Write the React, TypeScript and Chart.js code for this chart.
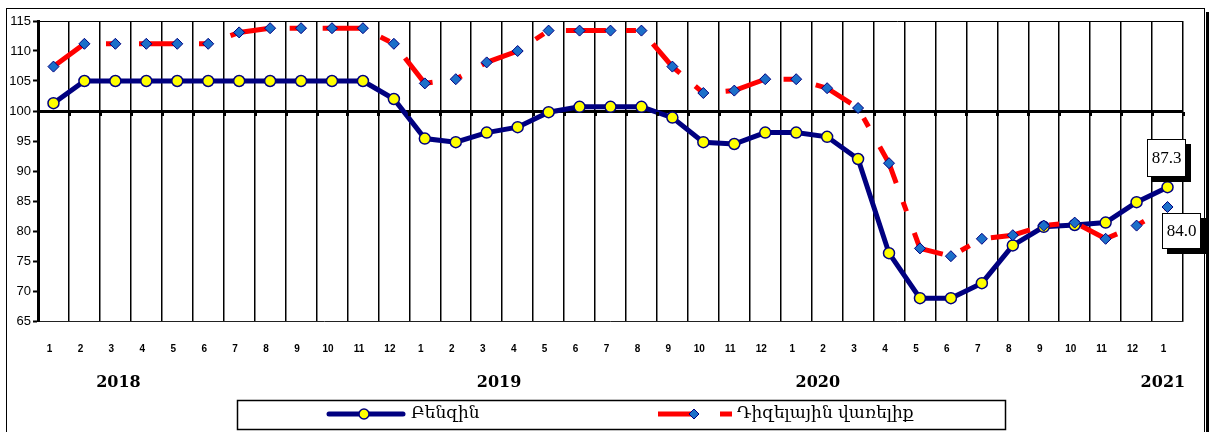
import React, { useEffect, useRef } from 'react';
import { Chart, registerables } from 'chart.js';

Chart.register(...registerables);

const categories = [
  '1', '2', '3', '4', '5', '6', '7', '8', '9', '10', '11', '12',
  '1', '2', '3', '4', '5', '6', '7', '8', '9', '10', '11', '12',
  '1', '2', '3', '4', '5', '6', '7', '8', '9', '10', '11', '12',
  '1',
];

const benzin = [
  101.3, 105, 105, 105, 105, 105, 105, 105, 105, 105, 105, 102,
  95.4, 94.8, 96.4, 97.3, 99.8, 100.7, 100.7, 100.7, 98.9, 94.8, 94.5, 96.4,
  96.4, 95.7, 92.0, 76.3, 68.8, 68.8, 71.3, 77.6, 80.7, 81.0, 81.4, 84.8,
  87.3,
];

const diesel = [
  107.4, 111.2, 111.2, 111.2, 111.2, 111.2, 113.1, 113.8, 113.8, 113.8, 113.8, 111.2,
  104.6, 105.3, 108.1, 110.0, 113.4, 113.4, 113.4, 113.4, 107.4, 103.0, 103.4, 105.3,
  105.3, 103.8, 100.5, 91.3, 77.1, 75.8, 78.7, 79.3, 80.9, 81.4, 78.7, 80.9,
  84.0,
];

const seriesNames = ['Բենզին', 'Դիզելային վառելիք'];
const yearLabels = ['2018', '2019', '2020', '2021'];
const yearLabelPositions = [2.1, 14.4, 24.7, 35.85];
const yMin = 65;
const yMax = 115;
const yStep = 5;
const baseLine = 100;

const NAVY = '#000080';
const RED = '#FF0000';
const YELLOW = '#FFFF00';
const DIAMOND = '#1C6FC9';
const ARM_FONT = '"DejaVu Serif", "DejaVu Sans", serif';

function drawValueBox(ctx: CanvasRenderingContext2D, cx: number, cy: number, w: number, h: number, text: string) {
  const l = Math.round(cx - w / 2);
  const t = Math.round(cy - h / 2);
  ctx.fillStyle = '#000';
  ctx.fillRect(l + 5, t + 5, w, h);
  ctx.fillStyle = '#fff';
  ctx.fillRect(l, t, w, h);
  ctx.strokeStyle = '#000';
  ctx.lineWidth = 1;
  ctx.strokeRect(l + 0.5, t + 0.5, w - 1, h - 1);
  ctx.fillStyle = '#000';
  ctx.font = '17px "Liberation Serif", "Times New Roman", serif';
  ctx.textAlign = 'center';
  ctx.textBaseline = 'middle';
  ctx.fillText(text, l + w / 2, t + h / 2 + 1);
}

const overlayPlugin = {
  id: 'overlay',
  beforeDraw(chart: any) {
    const { ctx, width, height } = chart;
    ctx.save();
    ctx.fillStyle = '#fff';
    ctx.fillRect(0, 0, width, height);
    ctx.restore();
  },
  afterDraw(chart: any) {
    const { ctx } = chart;
    const x = chart.scales.x;
    const y = chart.scales.y;
    const x0 = x.getPixelForValue(0);
    const step = x.getPixelForValue(1) - x0;
    const y100 = y.getPixelForValue(baseLine);
    ctx.save();

    // small tick marks under the category axis crossing at 100
    ctx.fillStyle = '#000';
    for (let i = 0; i <= categories.length; i++) {
      const bx = x0 - step / 2 + i * step;
      ctx.fillRect(Math.round(bx) - 1, Math.round(y100) + 1, 3, 4);
    }

    // year labels
    ctx.font = 'bold 16px "DejaVu Serif", serif';
    ctx.textAlign = 'center';
    ctx.textBaseline = 'middle';
    ctx.fillStyle = '#000';
    yearLabels.forEach((t, k) => {
      ctx.fillText(t, x0 + yearLabelPositions[k] * step, 383);
    });

    // value boxes for last points
    const m0 = chart.getDatasetMeta(0);
    const m1 = chart.getDatasetMeta(1);
    const p0 = m0.data[m0.data.length - 1];
    const p1 = m1.data[m1.data.length - 1];
    drawValueBox(ctx, p0.x - 1, p0.y - 29, 39, 38, benzin[benzin.length - 1].toFixed(1));
    drawValueBox(ctx, p1.x + 14, p1.y + 24, 39, 36, diesel[diesel.length - 1].toFixed(1));

    // legend
    ctx.strokeStyle = '#000';
    ctx.lineWidth = 1.5;
    ctx.strokeRect(237.5, 400.5, 768, 29);
    const ly = 414;
    ctx.lineCap = 'round';
    ctx.strokeStyle = NAVY;
    ctx.lineWidth = 5;
    ctx.beginPath();
    ctx.moveTo(329, ly);
    ctx.lineTo(403, ly);
    ctx.stroke();
    ctx.lineCap = 'butt';
    ctx.beginPath();
    ctx.arc(364, ly, 5, 0, Math.PI * 2);
    ctx.fillStyle = YELLOW;
    ctx.fill();
    ctx.lineWidth = 1.5;
    ctx.strokeStyle = NAVY;
    ctx.stroke();

    ctx.strokeStyle = RED;
    ctx.lineWidth = 5;
    ctx.beginPath();
    ctx.moveTo(658, ly);
    ctx.lineTo(697, ly);
    ctx.stroke();
    ctx.beginPath();
    ctx.moveTo(694, ly - 5);
    ctx.lineTo(699, ly);
    ctx.lineTo(694, ly + 5);
    ctx.lineTo(689, ly);
    ctx.closePath();
    ctx.fillStyle = DIAMOND;
    ctx.fill();
    ctx.lineWidth = 1;
    ctx.strokeStyle = NAVY;
    ctx.stroke();
    ctx.fillStyle = RED;
    ctx.fillRect(720, ly - 2.5, 12, 5);

    ctx.fillStyle = '#000';
    ctx.font = '17px ' + ARM_FONT;
    ctx.textAlign = 'left';
    ctx.textBaseline = 'middle';
    ctx.fillText(seriesNames[0], 411, ly);
    ctx.fillText(seriesNames[1], 737, ly);

    // outer frame
    ctx.strokeStyle = '#000';
    ctx.lineWidth = 1;
    ctx.strokeRect(6.5, 8.5, 1198, 440);
    ctx.fillStyle = '#000';
    ctx.fillRect(1206, 12, 3, 420);

    ctx.restore();
  },
};

export default function App() {
  const canvasRef = useRef<HTMLCanvasElement | null>(null);

  useEffect(() => {
    document.body.style.margin = '0';
    const canvas = canvasRef.current;
    if (!canvas) return;
    const chart = new Chart(canvas, {
      type: 'line',
      data: {
        labels: categories,
        datasets: [
          {
            label: seriesNames[0],
            data: benzin,
            borderColor: NAVY,
            borderWidth: 5,
            backgroundColor: YELLOW,
            pointBackgroundColor: YELLOW,
            pointBorderColor: NAVY,
            pointBorderWidth: 1.5,
            pointRadius: 5.5,
            pointStyle: 'circle',
            tension: 0,
            fill: false,
            order: 1,
          },
          {
            label: seriesNames[1],
            data: diesel,
            borderColor: RED,
            borderWidth: 5,
            borderDash: [40, 20, 10, 23],
            backgroundColor: DIAMOND,
            pointBackgroundColor: DIAMOND,
            pointBorderColor: NAVY,
            pointBorderWidth: 1,
            pointRadius: 5.5,
            pointStyle: 'rectRot',
            tension: 0,
            fill: false,
            order: 0,
          },
        ],
      },
      options: {
        responsive: false,
        animation: false,
        events: [],
        layout: { padding: { top: 21, right: 26, left: 0, bottom: 0 } },
        plugins: {
          legend: { display: false },
          tooltip: { enabled: false },
          title: { display: false },
        },
        scales: {
          x: {
            type: 'category',
            offset: true,
            afterFit: (scale: any) => {
              scale.height = 111;
            },
            grid: {
              display: true,
              offset: true,
              color: '#000',
              lineWidth: 1.5,
              drawTicks: false,
            },
            border: { display: true, color: '#222', width: 1 },
            ticks: {
              autoSkip: false,
              maxRotation: 0,
              minRotation: 0,
              padding: 22,
              labelOffset: -4,
              color: '#000',
              font: { family: '"Liberation Sans", Arial, sans-serif', size: 10, weight: 'bold' },
            },
          },
          y: {
            min: yMin,
            max: yMax,
            afterFit: (scale: any) => {
              scale.width = 38;
            },
            grid: {
              display: true,
              color: (c: any) =>
                c.tick && (c.tick.value === baseLine || c.tick.value === yMax) ? '#000' : 'rgba(0,0,0,0)',
              lineWidth: (c: any) => (c.tick && c.tick.value === baseLine ? 3 : 1),
              tickColor: '#000',
              tickWidth: 2,
              tickLength: 5,
              drawTicks: true,
            },
            border: { display: true, color: '#000', width: 3 },
            ticks: {
              stepSize: yStep,
              padding: 2,
              color: '#000',
              font: { family: '"Liberation Sans", Arial, sans-serif', size: 13 },
            },
          },
        },
      },
      plugins: [overlayPlugin],
    });
    return () => chart.destroy();
  }, []);

  return (
    <div style={{ position: 'fixed', left: 0, top: 0, width: 1209, height: 432 }}>
      <canvas ref={canvasRef} width={1209} height={432} style={{ width: 1209, height: 432, display: 'block' }} />
    </div>
  );
}
